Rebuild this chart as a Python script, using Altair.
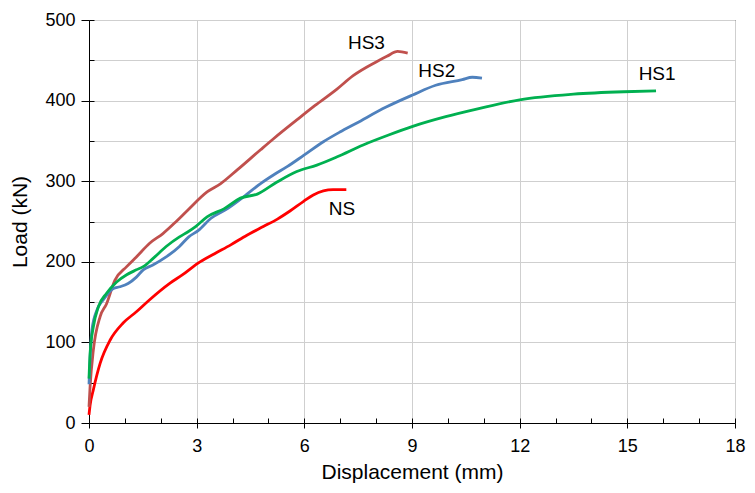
import altair as alt
import pandas as pd

# ---- data ----
series_names = ["HS1", "HS2", "HS3", "NS"]
series_colors = ["#00B050", "#4F81BD", "#C0504D", "#FF0000"]

ns_x = [0.0, 0.03, 0.12, 0.31, 0.59, 0.95, 1.32, 1.69, 2.24, 2.61, 3.03, 3.5, 3.95,
        4.4, 4.87, 5.25, 5.6, 5.98, 6.25, 6.53, 6.8, 7.17]
ns_y = [10, 22, 41, 74, 103, 124, 138, 153, 173, 184, 198, 210, 221,
        233, 244, 253, 263, 275, 283, 288, 289.5, 289.5]

hs3_x = [0.0, 0.03, 0.12, 0.31, 0.49, 0.72, 1.05, 1.32, 1.69, 2.06, 2.43, 2.75, 3.3,
         3.67, 4.13, 4.78, 5.15, 5.79, 6.3, 6.9, 7.36, 8.0, 8.3, 8.6, 8.88]
hs3_y = [20, 45, 90, 132, 148, 177, 194, 206, 223, 235, 250, 264, 287,
         297, 314, 339, 353, 376, 394, 414, 431, 448, 455, 461, 459]

hs2_x = [0.0, 0.03, 0.08, 0.22, 0.4, 0.68, 0.86, 1.09, 1.32, 1.51, 1.78, 2.15, 2.52,
         2.78, 3.05, 3.4, 3.86, 4.32, 4.78, 5.15, 5.52, 5.98, 6.53, 6.99, 7.45,
         8.28, 9.02, 9.66, 10.4, 10.68, 10.95]
hs2_y = [48, 80, 115, 140, 153, 167, 169, 173, 181, 190, 196, 206, 219,
         231, 239, 254, 266, 281, 297, 308, 318, 332, 349, 361, 372,
         392, 407, 419, 426, 429, 428]

hs1_x = [0.0, 0.03, 0.12, 0.26, 0.49, 0.77, 1.05, 1.32, 1.51, 1.78, 2.15, 2.52, 2.75,
         2.98, 3.3, 3.77, 4.22, 4.69, 5.24, 5.79, 6.35, 6.9, 7.64, 8.33, 9.02,
         9.94, 10.86, 12.0, 13.5, 14.9, 15.8]
hs1_y = [55, 86, 119, 144, 161, 175, 184, 190, 194, 204, 219, 231, 237,
         244, 256, 266, 279, 284, 299, 312, 320, 330, 345, 357, 368,
         380, 390, 401, 408, 411, 412]

label_text = ["HS3", "HS2", "HS1", "NS"]
label_x = [7.73, 9.69, 15.83, 7.05]
label_y = [472, 437, 433, 266]

x_major = [0, 3, 6, 9, 12, 15, 18]
x_minor = list(range(0, 19))
y_values = list(range(0, 501, 50))

# ---- tables ----
rows = []
for name, xs, ys in [("NS", ns_x, ns_y), ("HS3", hs3_x, hs3_y),
                     ("HS2", hs2_x, hs2_y), ("HS1", hs1_x, hs1_y)]:
    for i, (a, b) in enumerate(zip(xs, ys)):
        rows.append({"series": name, "disp": a, "load": b, "order": i})
df = pd.DataFrame(rows)
labels = pd.DataFrame({"text": label_text, "disp": label_x, "load": label_y})

FONT = "Liberation Sans"
GRID = "#cfcfcf"
xscale = alt.Scale(domain=[0, 18], nice=False, zero=True)
yscale = alt.Scale(domain=[0, 500], nice=False)

lines = alt.Chart(df).mark_line(strokeJoin="round", interpolate="monotone").encode(
    x=alt.X("disp:Q", scale=xscale,
            axis=alt.Axis(values=x_major, grid=True, gridColor=GRID,
                          tickSize=5, tickColor="black", domainColor="black",
                          labelFont=FONT, labelFontSize=18, labelColor="black",
                          labelPadding=9, labelFlush=False,
                          title="Displacement (mm)", titleFont=FONT,
                          titleFontSize=21, titleFontWeight="normal",
                          titleColor="black", titlePadding=6)),
    y=alt.Y("load:Q", scale=yscale,
            axis=alt.Axis(values=y_values, grid=True, gridColor=GRID,
                          tickSize=8,
                          tickColor={"condition": {"test": "datum.value % 100 === 0",
                                                   "value": "black"},
                                     "value": "transparent"},
                          domainColor="black",
                          labelExpr="datum.value % 100 === 0 ? datum.label : ''",
                          labelFont=FONT, labelFontSize=18, labelColor="black",
                          labelPadding=6, labelFlush=False,
                          title="Load (kN)", titleFont=FONT, titleFontSize=21,
                          titleFontWeight="normal", titleColor="black",
                          titlePadding=14)),
    color=alt.Color("series:N", scale=alt.Scale(domain=series_names, range=series_colors),
                    legend=None),
    strokeWidth=alt.StrokeWidth("series:N",
                                scale=alt.Scale(domain=series_names,
                                                range=[2.8, 2.8, 2.8, 3.3]),
                                legend=None),
    order="order:Q",
    detail="series:N",
)

text = alt.Chart(labels).mark_text(font=FONT, fontSize=19, color="black").encode(
    x=alt.X("disp:Q", scale=xscale,
            axis=alt.Axis(orient="bottom", values=x_minor, offset=-5, tickSize=5,
                          tickColor="black", domain=False, labels=False, grid=False,
                          title=None)),
    y=alt.Y("load:Q", scale=yscale,
            axis=alt.Axis(orient="left", values=y_values, offset=-5, tickSize=5,
                          tickColor="black", domain=False, labels=False, grid=False,
                          title=None)),
    text="text:N",
)

chart = alt.layer(lines, text).resolve_axis(x="independent", y="independent").properties(
    width=646, height=403,
    autosize=alt.AutoSizeParams(type="none"),
    padding={"left": 81, "top": 12, "right": 12, "bottom": 62},
    background="white",
).configure_view(stroke="black", strokeWidth=1)

chart.save("out.html", embed_options={"renderer": "svg", "actions": False})
